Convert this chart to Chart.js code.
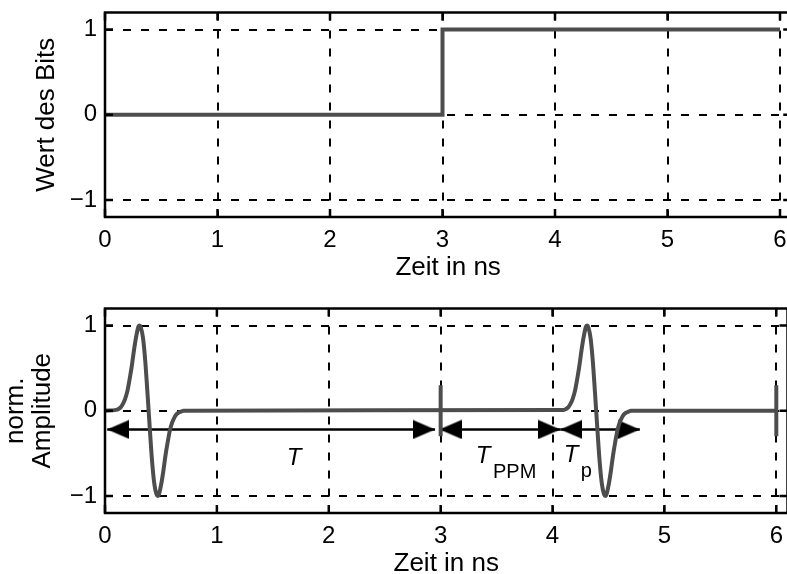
<!DOCTYPE html>
<html>
<head>
<meta charset="utf-8">
<script src="https://cdn.jsdelivr.net/npm/chart.js@4.4.1/dist/chart.umd.min.js"></script>
<style>
    html, body { margin: 0; padding: 0; background: #fff; overflow: hidden; width: 787px; height: 574px; }
    .panel { position: absolute; left: 0; width: 800px; height: 296px; }
</style>
</head>
<body>
<div class="panel" style="top:0"><canvas id="bitChart" width="800" height="296"></canvas></div>
<div class="panel" style="top:296px"><canvas id="pulseChart" width="800" height="296"></canvas></div>
<script>
// Axis ticks: time in ns, normalised level
const timeTicks = [0, 1, 2, 3, 4, 5, 6];
const levelTicks = [-1, 0, 1];

// Bit value over time (0 in the first frame, 1 in the second)
const bitTimes = [0, 3, 3, 6];
const bitValues = [0, 0, 1, 1];

// PPM signal: monocycle at the frame start for bit 0, shifted by T_PPM for bit 1
const pulseTimes = [0,
    0.10, 0.12, 0.14, 0.16, 0.18, 0.20, 0.22, 0.24, 0.26, 0.28, 0.30, 0.31,
    0.32, 0.34, 0.36, 0.38, 0.40, 0.42, 0.44, 0.46, 0.47,
    0.48, 0.50, 0.52, 0.54, 0.56, 0.58, 0.60, 0.62, 0.64, 0.66, 0.68, 0.70,
    4.10, 4.12, 4.14, 4.16, 4.18, 4.20, 4.22, 4.24, 4.26, 4.28, 4.30, 4.31,
    4.32, 4.34, 4.36, 4.38, 4.40, 4.42, 4.44, 4.46, 4.47,
    4.48, 4.50, 4.52, 4.54, 4.56, 4.58, 4.60, 4.62, 4.64, 4.66, 4.68, 4.70,
    6];
const pulseValues = [0,
    0.01, 0.02, 0.04, 0.08, 0.14, 0.23, 0.37, 0.53, 0.72, 0.88, 0.99, 1.00,
    0.98, 0.85, 0.58, 0.20, -0.20, -0.58, -0.85, -0.98, -1.00,
    -0.99, -0.88, -0.72, -0.53, -0.37, -0.23, -0.14, -0.08, -0.04, -0.02, -0.01, 0,
    0.01, 0.02, 0.04, 0.08, 0.14, 0.23, 0.37, 0.53, 0.72, 0.88, 0.99, 1.00,
    0.98, 0.85, 0.58, 0.20, -0.20, -0.58, -0.85, -0.98, -1.00,
    -0.99, -0.88, -0.72, -0.53, -0.37, -0.23, -0.14, -0.08, -0.04, -0.02, -0.01, 0,
    0];

// Frame boundary markers
const frameMarkTimes = [3, 6];
const frameMarkTop = 0.3;
const frameMarkBottom = -0.3;

// Duration arrows: T, T_PPM, T_p
const arrowStarts = [0.02, 2.99, 4.07];
const arrowEnds = [2.95, 4.07, 4.78];
const arrowLevel = -0.22;

// Arrow labels (main letter + subscript)
const noteTexts = ['T', 'T', 'T'];
const noteSubs = ['', 'PPM', 'p'];
const noteX = [1.69, 3.38, 4.165];
const noteY = [-0.635, -0.612, -0.60];

const FONT = '"Liberation Sans", Arial, Helvetica, sans-serif';
const LINE_GREY = '#4d4d4d';
Chart.defaults.font.family = FONT;
Chart.defaults.color = '#000';

// filled arrow head, tip in the centre of the image so the point sits on the tip
function makeArrowHead() {
    const c = document.createElement('canvas');
    c.width = 44;
    c.height = 20;
    const g = c.getContext('2d');
    g.fillStyle = '#000';
    g.beginPath();
    g.moveTo(22, 10);
    g.lineTo(0, 0.5);
    g.lineTo(0, 19.5);
    g.closePath();
    g.fill();
    return c;
}
const arrowHead = makeArrowHead();

// box around the plot area with inward tick marks
const framePlugin = {
    id: 'frame',
    afterDatasetsDraw(chart) {
        const { ctx, chartArea: a, scales: { x, y } } = chart;
        ctx.save();
        ctx.strokeStyle = '#000';
        ctx.lineWidth = 2.5;
        ctx.strokeRect(a.left, a.top, a.right - a.left, a.bottom - a.top);
        ctx.beginPath();
        timeTicks.forEach(v => {
            const px = x.getPixelForValue(v);
            ctx.moveTo(px, a.bottom); ctx.lineTo(px, a.bottom - 8);
            ctx.moveTo(px, a.top); ctx.lineTo(px, a.top + 8);
        });
        levelTicks.forEach(v => {
            const py = y.getPixelForValue(v);
            ctx.moveTo(a.left, py); ctx.lineTo(a.left + 8, py);
            ctx.moveTo(a.right, py); ctx.lineTo(a.right - 8, py);
        });
        ctx.stroke();
        ctx.restore();
    }
};

// T labels next to the arrows
const notesPlugin = {
    id: 'notes',
    afterDatasetsDraw(chart) {
        const { ctx, scales: { x, y } } = chart;
        ctx.save();
        ctx.fillStyle = '#000';
        ctx.textBaseline = 'alphabetic';
        noteTexts.forEach((t, i) => {
            const px = x.getPixelForValue(noteX[i]);
            const py = y.getPixelForValue(noteY[i]);
            ctx.font = 'italic 24px ' + FONT;
            ctx.textAlign = 'center';
            ctx.fillText(t, px, py);
            if (noteSubs[i]) {
                const w = ctx.measureText(t).width;
                ctx.font = '20px ' + FONT;
                ctx.textAlign = 'left';
                ctx.fillText(noteSubs[i], px + w / 2 + 2.5, py + 15);
            }
        });
        ctx.restore();
    }
};

function timeScale() {
    return {
        type: 'linear',
        min: 0,
        max: 6.1,
        afterBuildTicks: s => { s.ticks = timeTicks.map(v => ({ value: v })); },
        afterFit: s => { s.height = 79; s.paddingLeft = 0; s.paddingRight = 0; },
        grid: { color: '#000', lineWidth: 2, drawTicks: false },
        border: { display: false, dash: [8, 10] },
        ticks: { padding: 9, font: { size: 24 }, maxRotation: 0, autoSkip: false },
        title: { display: true, text: 'Zeit in ns', font: { size: 26 }, padding: { top: 0, bottom: 13 } }
    };
}

function levelScale(title, lineHeight, padTop) {
    return {
        type: 'linear',
        min: -1.2,
        max: 1.2,
        afterBuildTicks: s => { s.ticks = levelTicks.map(v => ({ value: v })); },
        afterFit: s => { s.width = 105; s.paddingTop = 0; s.paddingBottom = 0; },
        grid: { color: '#000', lineWidth: 2, drawTicks: false },
        border: { display: false, dash: [8, 10] },
        ticks: {
            padding: 8,
            font: { size: 24 },
            callback: v => v < 0 ? '\u2212' + Math.abs(v) : String(v)
        },
        title: { display: true, text: title, font: { size: 26, lineHeight: lineHeight }, padding: { top: padTop, bottom: 0 } }
    };
}

function baseOptions(yScale) {
    return {
        responsive: false,
        animation: false,
        events: [],
        layout: { padding: { top: 12.5, right: 8.75, bottom: 0, left: 0 } },
        plugins: { legend: { display: false }, tooltip: { enabled: false } },
        scales: { x: timeScale(), y: yScale }
    };
}

// upper panel: bit sequence
new Chart(document.getElementById('bitChart'), {
    type: 'scatter',
    data: {
        datasets: [{
            data: bitTimes.map((t, i) => ({ x: t, y: bitValues[i] })),
            showLine: true,
            borderColor: LINE_GREY,
            borderWidth: 4,
            pointRadius: 0,
            tension: 0
        }]
    },
    options: baseOptions(levelScale('Wert des Bits', 1.2, 31)),
    plugins: [framePlugin]
});

// lower panel: PPM pulse train with frame markers and duration arrows
const pulseSets = [{
    data: pulseTimes.map((t, i) => ({ x: t, y: pulseValues[i] })),
    showLine: true,
    borderColor: LINE_GREY,
    borderWidth: 4,
    pointRadius: 0,
    cubicInterpolationMode: 'monotone',
    borderJoinStyle: 'round'
}];
frameMarkTimes.forEach(t => {
    pulseSets.push({
        data: [{ x: t, y: frameMarkTop }, { x: t, y: frameMarkBottom }],
        showLine: true,
        borderColor: LINE_GREY,
        borderWidth: 4,
        pointRadius: 0
    });
});
arrowStarts.forEach((s, i) => {
    pulseSets.push({
        data: [{ x: s, y: arrowLevel }, { x: arrowEnds[i], y: arrowLevel }],
        showLine: true,
        borderColor: '#000',
        borderWidth: 2.5,
        pointStyle: arrowHead,
        pointRotation: [180, 0],
        pointRadius: 10
    });
});

new Chart(document.getElementById('pulseChart'), {
    type: 'scatter',
    data: { datasets: pulseSets },
    options: baseOptions(levelScale(['norm.', 'Amplitude'], '27px', 2.5)),
    plugins: [framePlugin, notesPlugin]
});
</script>
</body>
</html>
